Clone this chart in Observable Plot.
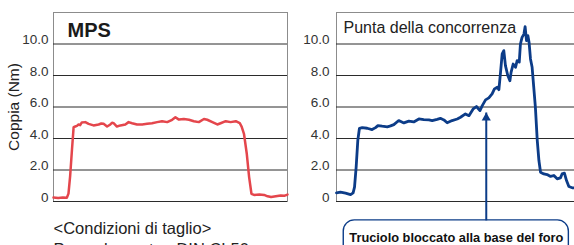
<!DOCTYPE html>
<html><head><meta charset="utf-8">
<script src="https://cdn.jsdelivr.net/npm/d3@7"></script>
<script src="https://cdn.jsdelivr.net/npm/@observablehq/plot@0.6"></script>
<style>
body{margin:0;background:#fff;}
#wrap{position:relative;width:574px;height:245px;overflow:hidden;font-family:"Liberation Sans",Arial,sans-serif;}
#left{position:absolute;left:0;top:0;width:290px;height:245px}
#right{position:absolute;left:290px;top:0;width:300px;height:245px}
#wrap svg{max-width:none !important;}
</style></head><body>
<div id="wrap"><div id="left"></div><div id="right"></div></div>
<script>
// ---- data ----
const yTicks = [0, 2, 4, 6, 8, 10];
const yTickLabels = ["0", "2.0", "4.0", "6.0", "8.0", "10.0"];
const yLabel = "Coppia (Nm)";
const leftTitle = "MPS";
const rightTitle = "Punta della concorrenza";
const captionLines = ["<Condizioni di taglio>", "Pezzo lavorato:  DIN CL50"];
const annotationText = "Truciolo bloccato alla base del foro";

const mpsTime = [0,2,4,5.7,6.4,7.1,7.9,8.6,9.3,10,10.7,11.4,12.1,13.6,15,17.1,19.3,20.4,21.4,22.9,24.3,25,25.7,27.1,28.6,30.7,32.1,33.6,35.7,37.9,40,42.1,44.3,46.4,48.6,50.7,52.1,53.6,55.7,57.9,60,62.1,64.3,65.7,67.9,70,71.4,73.6,75.7,77.9,79.6,80.4,81.4,82.6,83.6,84.6,85.7,88,90,91.5,93,95,97.1,98.6,100];
const mpsTorque = [0.25,0.23,0.25,0.24,0.5,1.6,3.3,4.72,4.76,4.8,4.89,4.85,5.02,5.04,4.93,4.83,4.89,4.95,4.93,4.76,4.89,5.0,4.97,4.76,4.83,4.89,5.04,4.97,4.89,4.89,4.93,4.97,5.04,5.1,5.04,5.19,5.35,5.2,5.24,5.19,5.1,5.04,5.24,5.19,5.04,4.89,4.97,5.1,5.04,5.1,4.97,4.76,4.3,3.03,1.55,0.49,0.42,0.44,0.42,0.33,0.28,0.33,0.38,0.36,0.44];

const compTime = [0,1.7,3.85,6.0,7.1,7.7,8.4,9.1,9.8,11.0,13.1,15.2,16.7,17.7,19.5,21.7,23.1,24.5,26.6,28.8,30.9,33.0,35.2,37.3,39.5,40.9,43.0,44.4,45.9,47.3,49.4,51.6,53.0,55.1,56.6,58.4,59.8,61.3,62.3,63.7,65.1,66.5,67.5,68.7,69.4,70.1,70.8,71.5,72.2,73.2,74.1,74.6,75.5,76.5,77.2,78.1,78.6,79.3,80.1,80.6,81.2,81.8,82.3,82.9,83.6,84.3,85.0,85.8,86.5,87.2,88.6,90.0,91.5,92.9,94.3,95.7,96.4,97.4,98.3,99.3,100.7,101.7];
const compTorque = [0.55,0.59,0.53,0.44,0.55,0.91,2.18,3.87,4.65,4.69,4.65,4.57,4.69,4.82,4.78,4.74,4.8,4.88,5.14,4.99,5.1,5.05,5.24,5.2,5.18,5.14,5.22,5.28,5.18,5.0,5.14,5.24,5.35,5.56,5.45,5.88,6.03,5.77,6.09,6.45,6.58,6.83,7.15,7.25,7.1,8.2,9.37,9.58,8.63,8.0,7.67,8.2,8.73,8.52,8.94,8.85,10.0,10.42,10.63,11.1,10.21,10.53,10.1,9.05,8.52,7.25,5.98,3.87,2.6,1.86,1.75,1.71,1.59,1.65,1.44,1.5,1.75,1.8,1.33,0.95,0.87,0.87];

// annotation (data coordinates)
const arrowX = [64.0];
const arrowTipY = [5.65];
const arrowBaseY = [-1.2];
const boxX = [3.1, 99.3];
const boxY = [-3.9, -1.2];
const annotationY = [-2.54];

// ---- build ----
const mpsData = mpsTime.map((t, i) => ({t, v: mpsTorque[i]}));
const compData = compTime.map((t, i) => ({t, v: compTorque[i]}));
const fmt = d => yTickLabels[yTicks.indexOf(d)];
const font = "Liberation Sans, Arial, sans-serif";
const gridColor = "#2b2b2b";
const frameColor = "#8c8c8c";
const red = "#e4464c";
const navy = "#0c3c88";
const baseStyle = {fontFamily: font, fontSize: "13.5px", background: "white", color: "#333", maxWidth: "none"};

const left = Plot.plot({
  width: 290, height: 245,
  marginLeft: 53, marginRight: 3, marginTop: 12, marginBottom: 44,
  style: baseStyle,
  x: {domain: [0, 100], axis: null},
  y: {domain: [0, 12], axis: null},
  marks: [
    Plot.frame({stroke: frameColor}),
    Plot.ruleY(yTicks, {stroke: gridColor, strokeWidth: 1}),
    Plot.axisY({ticks: yTicks, tickFormat: fmt, tickSize: 0, tickPadding: 5, dy: -4, fill: "#333", label: null, fontSize: 13.5}),
    Plot.line(mpsData, {x: "t", y: "v", stroke: red, strokeWidth: 2.5, strokeLinejoin: "round"}),
    Plot.text([leftTitle], {text: d => d, frameAnchor: "top-left", dx: 14, dy: 24, fontSize: 20, fontWeight: "bold", textAnchor: "start", lineAnchor: "bottom", fill: "#1a1a1a"}),
    Plot.text([yLabel], {text: d => d, frameAnchor: "left", rotate: -90, dx: -35, dy: 0, fontSize: 15.5, textAnchor: "middle", lineAnchor: "bottom", fill: "#222"}),
    Plot.text([captionLines[0]], {text: d => d, frameAnchor: "bottom-left", dy: 32, fontSize: 16.5, textAnchor: "start", lineAnchor: "bottom", fill: "#222"}),
    Plot.text([captionLines[1]], {text: d => d, frameAnchor: "bottom-left", dy: 53.5, fontSize: 16.5, textAnchor: "start", lineAnchor: "bottom", fill: "#222"})
  ]
});
document.getElementById("left").append(left);

const right = Plot.plot({
  width: 300, height: 245,
  marginLeft: 46, marginRight: 0, marginTop: 12, marginBottom: 44,
  style: baseStyle,
  x: {domain: [0, 254 / 2.34], axis: null},
  y: {domain: [0, 12], axis: null},
  marks: [
    Plot.frame({stroke: frameColor}),
    Plot.ruleY(yTicks, {stroke: gridColor, strokeWidth: 1}),
    Plot.axisY({ticks: yTicks, tickFormat: fmt, tickSize: 0, tickPadding: 7, dy: -4, fill: "#333", label: null, fontSize: 13.5}),
    Plot.line(compData, {x: "t", y: "v", stroke: navy, strokeWidth: 2.8, strokeLinejoin: "round"}),
    Plot.text([rightTitle], {text: d => d, frameAnchor: "top-left", dx: 7, dy: 20, fontSize: 16, textAnchor: "start", lineAnchor: "bottom", fill: "#222"}),
    Plot.rect([0], {x1: () => boxX[0], x2: () => boxX[1], y1: () => boxY[0], y2: () => boxY[1], rx: 11, stroke: navy, strokeWidth: 1.4, fill: "white"}),
    Plot.link(arrowX, {x1: d => d, x2: d => d, y1: (d, i) => arrowBaseY[i], y2: (d, i) => arrowTipY[i], stroke: navy, strokeWidth: 2}),
    Plot.dot(arrowX, {x: d => d, y: (d, i) => arrowTipY[i], symbol: "triangle", r: 3.4, fill: navy, stroke: "none", dy: 5.3}),
    Plot.text([annotationText], {text: d => d, x: () => (boxX[0] + boxX[1]) / 2, y: () => annotationY[0], fontSize: 12.8, fontWeight: "bold", textAnchor: "middle", lineAnchor: "bottom", fill: "#111"})
  ]
});
document.getElementById("right").append(right);
</script>
</body></html>
